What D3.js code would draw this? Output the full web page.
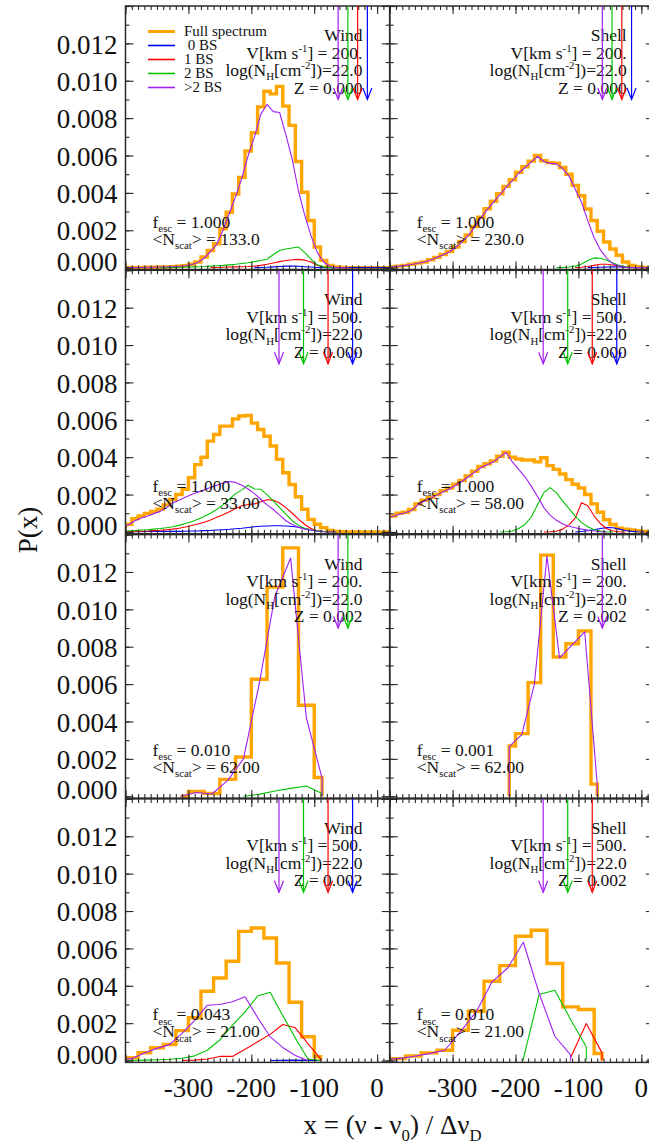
<!DOCTYPE html>
<html>
<head>
<meta charset="utf-8">
<script src="https://cdn.jsdelivr.net/npm/d3@7"></script>
<style>
  html, body { margin: 0; padding: 0; background: #fff; }
  svg { display: block; font-family: "Liberation Serif", "Times New Roman", serif; }
  text { white-space: pre; fill: #111; }
</style>
</head>
<body>
<svg id="chart" width="649" height="1146"></svg>
<script>
// Lyman-alpha escape spectra P(x): full spectrum and split by number of backscatterings.
// Series values are stored in units of 1e-3; each series lists bin-centre values
// starting at its own first bin centre, with a fixed bin width per panel.
const UNIT = 1e-3;

const xTickValues = [-300, -200, -100, 0];
const xTickLabels = ["-300", "-200", "-100", "0"];
const yTickValues = [0, 0.002, 0.004, 0.006, 0.008, 0.010, 0.012];
const yTickLabels = ["0.000", "0.002", "0.004", "0.006", "0.008", "0.010", "0.012"];

const legendLabels = ["Full spectrum", " 0 BS", "1 BS", "2 BS", ">2 BS"];
const seriesKeys = ["full", "bs0", "bs1", "bs2", "bs3"];

// Arrow positions (x) for each backscattering order, per outflow velocity
const arrowsV200 = { bs0: -15.5, bs1: -31, bs2: -46.5, bs3: -62 };
const arrowsV500 = { bs0: -39, bs1: -78, bs2: -117, bs3: -156 };
const arrowTip = 0.009;

// --- Wind, V=200, Z=0.000 (bin width 10)
const w200z0Full = [0.01,0.01,0.01,0.01,0.02,0.02,0.03,0.03,0.05,0.07, 0.1,0.18,0.3,0.57,0.92,1.28,2.08,2.96,3.94,4.83, 6.24,7.22,8.6,9.44,9.3,9.7,8.64,7.61,5.68,4.03, 2.52,1.1,0.39,0.12,0.04,0.01,0,0,0,0, 0,0,0,0];
const w200z0Bs3 = [0.01,0.01,0.01,0.01,0.02,0.02,0.03,0.03,0.05,0.07, 0.1,0.17,0.28,0.5,0.85,1.25,2.0,2.9,3.8,4.8, 6.0,7.0,8.2,8.73,8.35,8.3,7.1,5.8,4.1,2.8, 1.7,0.8,0.3,0.06,0.01,0,0];
const w200z0Bs2 = [0,0,0.01,0.02,0.03,0.04,0.05,0.06,0.08,0.1, 0.12,0.15,0.18,0.22,0.26,0.32,0.38,0.45,0.7,0.92, 1.0,1.05,1.1,0.8,0.45,0.15,0.04,0.01,0];
const w200z0Bs1 = [0,0.01,0.02,0.03,0.04,0.05,0.06,0.08,0.12,0.18, 0.25,0.32,0.38,0.42,0.44,0.4,0.3,0.12,0.03,0];
const w200z0Bs0 = [0,0.01,0.02,0.04,0.06,0.08,0.08,0.07,0.05,0.03, 0.01,0,0,0,0,0,0,0,0,0, 0,0,0];

// --- Shell, V=200, Z=0.000 (bin width 10)
const s200z0Full = [0.04,0.05,0.08,0.12,0.18,0.24,0.3,0.42,0.55,0.7, 0.86,1.1,1.4,1.75,2.2,2.7,3.15,3.55,3.95,4.35, 4.7,5.1,5.4,5.7,6.0,5.72,5.62,5.59,5.36,5.0, 4.4,3.85,3.14,2.52,1.95,1.37,1.0,0.66,0.3,0.12, 0.05,0.01,0,0];
const s200z0Bs3 = [0.04,0.05,0.08,0.12,0.17,0.23,0.3,0.41,0.54,0.69, 0.85,1.08,1.38,1.72,2.17,2.66,3.1,3.5,3.9,4.3, 4.65,5.05,5.35,5.65,5.95,5.68,5.58,5.55,5.3,4.9, 4.2,3.5,2.5,1.6,0.95,0.5,0.2,0.08,0.02,0, 0,0,0,0];
const s200z0Bs2 = [0,0.01,0.03,0.08,0.2,0.38,0.52,0.5,0.4,0.25, 0.12,0.05,0.01,0];
const s200z0Bs1 = [0,0.02,0.06,0.12,0.18,0.18,0.14,0.08,0.03,0.01,0];
const s200z0Bs0 = [0,0.01,0.02,0.03,0.04,0.03,0.02,0.01,0];

// --- Wind, V=500, Z=0.000 (bin width 10)
const w500z0Full = [0.3,0.41,0.71,0.85,0.99,1.1,1.21,1.45,1.74,2.0, 2.28,2.9,3.6,4.0,4.86,5.21,5.66,5.66,6.05,6.2, 6.23,5.82,5.48,5.12,4.6,3.88,3.17,2.54,1.88,1.21, 0.67,0.41,0.23,0.08,0.03,0.01,0,0,0,0, 0,0,0,0];
const w500z0Bs3 = [0.3,0.38,0.6,0.75,0.85,0.98,1.1,1.3,1.55,1.7, 1.85,2.0,2.12,2.25,2.38,2.5,2.6,2.7,2.65,2.5, 2.3,2.05,1.75,1.45,1.2,0.9,0.6,0.4,0.25,0.15, 0.1,0.05,0.01,0,0];
const w500z0Bs2 = [0.04,0.05,0.07,0.1,0.12,0.15,0.18,0.22,0.28,0.35, 0.45,0.55,0.68,0.82,1.0,1.2,1.45,1.75,2.05,2.25, 2.5,2.3,2.28,2.0,1.65,1.3,0.95,0.6,0.35,0.2, 0.12,0.07,0.03,0.01,0];
const w500z0Bs1 = [0.02,0.02,0.03,0.04,0.05,0.07,0.09,0.12,0.15,0.2, 0.26,0.34,0.42,0.52,0.64,0.78,0.92,1.08,1.25,1.4, 1.47,1.5,1.62,1.72,1.7,1.55,1.3,1.0,0.68,0.4, 0.18,0.06,0.02,0];
const w500z0Bs0 = [0.01,0.01,0.01,0.01,0.02,0.02,0.02,0.03,0.03,0.03, 0.04,0.05,0.05,0.07,0.08,0.1,0.12,0.14,0.17,0.2, 0.24,0.28,0.3,0.32,0.33,0.33,0.32,0.29,0.25,0.18, 0.1,0.05,0.02,0];

// --- Shell, V=500, Z=0.000 (bin width 10)
const s500z0Full = [0.8,0.85,1.0,1.05,1.2,1.5,1.7,1.85,2.0,2.2, 2.35,2.55,2.75,3.0,3.25,3.5,3.65,3.8,4.05,4.27, 4.0,3.9,3.85,3.85,3.75,3.97,3.55,3.35,3.1,2.8, 2.55,2.35,2.0,1.5,1.05,0.65,0.4,0.2,0.15,0.1, 0.06,0.03,0.01,0];
const s500z0Bs3 = [0.78,0.83,0.95,1.03,1.15,1.45,1.65,1.8,1.97,2.15, 2.3,2.5,2.7,2.95,3.2,3.45,3.6,3.75,4.0,4.25, 3.75,3.35,2.95,2.45,1.9,1.3,0.9,0.62,0.42,0.3, 0.22,0.15,0.1,0.05,0.01,0];
const s500z0Bs2 = [0,0.01,0.05,0.18,0.4,0.8,1.45,2.1,2.37,2.1, 1.65,1.25,0.85,0.5,0.28,0.12,0.05,0.01,0];
const s500z0Bs1 = [0,0.01,0.04,0.15,0.38,0.75,1.56,1.4,0.85,0.45, 0.17,0.05,0.01,0];
const s500z0Bs0 = [0,0.02,0.06,0.12,0.18,0.23,0.22,0.15,0.08,0.03, 0.01,0];

// --- Wind, V=200, Z=0.002 (bin width 25)
const w200z2Full = [0,0.25,0.15,0.9,2.1,6.26,11.19,13.29,4.87,1.0];
const w200z2Bs3 = [0,0.2,0.12,0.85,2.0,6.0,10.7,12.75,4.2,0.95];
const w200z2Bs2 = [0,0.1,0.28,0.42,0.55,0.15];

// --- Shell, V=200, Z=0.002 (bin width 20)
const s200z2Full = [2.69,3.35,6.08,12.9,7.45,8.16,8.84,0.65];
const s200z2Bs3 = [2.65,3.3,6.0,12.85,7.4,8.1,8.8,0.6];

// --- Wind, V=500, Z=0.002 (bin width 20)
const w500z2Full = [0.1,0.15,0.42,0.68,0.86,1.6,2.29,3.71,4.42,5.31,6.91,7.09,6.56,5.22,3.12,1.27,0.2];
const w500z2Bs3 = [0.05,0.1,0.4,0.65,0.85,1.45,2.15,2.96,3.0,3.15,3.41,2.3,1.27,0.7,0.27,0];
const w500z2Bs2 = [0,0,0.02,0.04,0.07,0.12,0.25,0.55,1.1,1.9,2.6,3.45,3.65,2.4,1.2,0.08,0];
const w500z2Bs1 = [0,0.02,0.08,0.22,0.22,0.6,1.0,1.4,1.93,1.75,0.9,0.1];
const w500z2Bs0 = [0,0.01,0.02,0.01,0];

// --- Shell, V=500, Z=0.002 (bin width 25)
const s500z2Full = [0.05,0.1,0.24,0.41,0.55,1.62,2.64,4.24,5.08,6.65,6.97,5.19,2.87,2.73,0.38];
const s500z2Bs3 = [0.05,0.1,0.22,0.37,0.55,1.55,2.6,4.2,4.95,6.33,3.6,1.3,0.3];
const s500z2Bs2 = [0.1,3.53,3.76,2.2,0.74];
const s500z2Bs1 = [0.15,1.98,0.41];

// Panel descriptions (reading order: left/right, top to bottom)
const panels = [
  { model: "Wind",  V: "200.", Z: "0.000", fesc: "1.000", nscat: "133.0", bin: 10, arrows: arrowsV200, shown: ["bs3","bs2","bs1","bs0"], legend: true,
    series: { full: [-405, w200z0Full], bs0: [-195, w200z0Bs0], bs1: [-265, w200z0Bs1], bs2: [-345, w200z0Bs2], bs3: [-405, w200z0Bs3] } },
  { model: "Shell", V: "200.", Z: "0.000", fesc: "1.000", nscat: "230.0", bin: 10, arrows: arrowsV200, shown: ["bs3","bs2","bs1","bs0"],
    series: { full: [-405, s200z0Full], bs0: [-85, s200z0Bs0], bs1: [-105, s200z0Bs1], bs2: [-135, s200z0Bs2], bs3: [-405, s200z0Bs3] } },
  { model: "Wind",  V: "500.", Z: "0.000", fesc: "1.000", nscat: "33.00", bin: 10, arrows: arrowsV500, shown: ["bs3","bs2","bs1","bs0"],
    series: { full: [-405, w500z0Full], bs0: [-405, w500z0Bs0], bs1: [-405, w500z0Bs1], bs2: [-405, w500z0Bs2], bs3: [-405, w500z0Bs3] } },
  { model: "Shell", V: "500.", Z: "0.000", fesc: "1.000", nscat: "58.00", bin: 10, arrows: arrowsV500, shown: ["bs3","bs2","bs1","bs0"],
    series: { full: [-405, s500z0Full], bs0: [-105, s500z0Bs0], bs1: [-155, s500z0Bs1], bs2: [-225, s500z0Bs2], bs3: [-405, s500z0Bs3] } },
  { model: "Wind",  V: "200.", Z: "0.002", fesc: "0.010", nscat: "62.00", bin: 25, arrows: arrowsV200, shown: ["bs3","bs2"],
    series: { full: [-312.5, w200z2Full], bs2: [-212.5, w200z2Bs2], bs3: [-312.5, w200z2Bs3] } },
  { model: "Shell", V: "200.", Z: "0.002", fesc: "0.001", nscat: "62.00", bin: 20, arrows: arrowsV200, shown: ["bs3"],
    series: { full: [-210, s200z2Full], bs3: [-210, s200z2Bs3] } },
  { model: "Wind",  V: "500.", Z: "0.002", fesc: "0.043", nscat: "21.00", bin: 20, arrows: arrowsV500, shown: ["bs3","bs2","bs1","bs0"],
    series: { full: [-410, w500z2Full], bs0: [-170, w500z2Bs0], bs1: [-310, w500z2Bs1], bs2: [-410, w500z2Bs2], bs3: [-410, w500z2Bs3] } },
  { model: "Shell", V: "500.", Z: "0.002", fesc: "0.010", nscat: "21.00", bin: 25, arrows: arrowsV500, shown: ["bs3","bs2","bs1"],
    series: { full: [-412.5, s500z2Full], bs1: [-112.5, s500z2Bs1], bs2: [-187.5, s500z2Bs2], bs3: [-412.5, s500z2Bs3] } }
];

// ---- layout & style
const colors = { full: "#FFA500", bs0: "#0000FF", bs1: "#FF0000", bs2: "#00C400", bs3: "#A020F0" };
const lefts = [125.5, 389.7];
const tops = [6, 270.3, 534.6, 798.9];
const panelW = 264.2, panelH = 263.5;
const xDomain = [-400, 20];
const yDomain = [-0.0001, 0.014];
const frameColor = "#2a2a2a";

const svg = d3.select("#chart");

function rich(g, x, y, parts, size, anchor) {
  const t = g.append("text")
    .attr("x", x).attr("y", y)
    .attr("font-size", size)
    .attr("text-anchor", anchor || "start");
  let shift = 0;
  parts.forEach(p => {
    const target = p.sub ? size * 0.25 : p.sup ? -size * 0.4 : 0;
    t.append("tspan")
      .attr("dy", (target - shift).toFixed(2))
      .attr("font-size", (p.sub || p.sup) ? size * 0.62 : size)
      .text(p.t);
    shift = target;
  });
  return t;
}

panels.forEach((p, i) => {
  const col = i % 2, row = Math.floor(i / 2);
  const left = lefts[col], top = tops[row];
  const x = d3.scaleLinear().domain(xDomain).range([left, left + panelW]);
  const y = d3.scaleLinear().domain(yDomain).range([top + panelH, top]);
  const g = svg.append("g");

  const clipId = "clip" + i;
  svg.append("clipPath").attr("id", clipId)
    .append("rect").attr("x", left).attr("y", top).attr("width", panelW).attr("height", panelH);

  // --- data lines
  const plot = g.append("g").attr("clip-path", `url(#${clipId})`);
  const toPoints = ([start, vals]) => {
    const pts = vals.map((v, k) => [start + k * p.bin, v * UNIT]);
    return [[pts[0][0], 0], ...pts, [pts[pts.length - 1][0], 0]];
  };
  const stepLine = d3.line().x(d => x(d[0])).y(d => y(d[1])).curve(d3.curveStep);
  const polyLine = d3.line().x(d => x(d[0])).y(d => y(d[1]));

  plot.append("path")
    .attr("d", stepLine(toPoints(p.series.full)))
    .attr("fill", "none").attr("stroke", colors.full)
    .attr("stroke-width", 3.4).attr("stroke-linejoin", "miter");

  ["bs0", "bs1", "bs2", "bs3"].forEach(k => {
    if (!p.series[k]) return;
    plot.append("path")
      .attr("d", polyLine(toPoints(p.series[k])))
      .attr("fill", "none").attr("stroke", colors[k])
      .attr("stroke-width", 1.1).attr("stroke-linejoin", "round");
  });

  // --- frame & ticks on all four sides
  const xMinor = d3.range(-400, 21, 10);
  const xMajor = [-400, -300, -200, -100, 0];
  const yMinor = d3.range(0, 0.01405, 0.001);
  const yMajor = d3.range(0, 0.01405, 0.002);
  const styleAxis = sel => {
    sel.select(".domain").remove();
    sel.selectAll("line").attr("stroke", frameColor).attr("stroke-width", 1.1);
    sel.selectAll("text").remove();
  };
  [[xMinor, 4], [xMajor, 8]].forEach(([vals, len]) => {
    g.append("g").attr("transform", `translate(0,${top + panelH})`)
      .call(d3.axisBottom(x).tickValues(vals).tickSize(-len).tickFormat("")).call(styleAxis);
    g.append("g").attr("transform", `translate(0,${top})`)
      .call(d3.axisTop(x).tickValues(vals).tickSize(-len).tickFormat("")).call(styleAxis);
  });
  [[yMinor, 4], [yMajor, 8]].forEach(([vals, len]) => {
    g.append("g").attr("transform", `translate(${left},0)`)
      .call(d3.axisLeft(y).tickValues(vals).tickSize(-len).tickFormat("")).call(styleAxis);
    g.append("g").attr("transform", `translate(${left + panelW},0)`)
      .call(d3.axisRight(y).tickValues(vals).tickSize(-len).tickFormat("")).call(styleAxis);
  });
  g.append("rect").attr("x", left).attr("y", top).attr("width", panelW).attr("height", panelH)
    .attr("fill", "none").attr("stroke", frameColor).attr("stroke-width", 1.5);

  // --- annotations
  const ann = g.append("g");
  const rx = left + 237, fs = 17.5;
  rich(ann, rx, top + 35, [{ t: p.model }], fs, "end");
  rich(ann, rx, top + 52.5, [{ t: "V[km s" }, { t: "-1", sup: true }, { t: "] = " + p.V }], fs, "end");
  rich(ann, rx, top + 70, [{ t: "log(N" }, { t: "H", sub: true }, { t: "[cm" }, { t: "-2", sup: true }, { t: "])=22.0" }], fs, "end");
  rich(ann, rx, top + 87.5, [{ t: "Z = " + p.Z }], fs, "end");
  rich(ann, left + 27, top + 221.5, [{ t: "f" }, { t: "esc", sub: true }, { t: " = " + p.fesc }], fs, "start");
  rich(ann, left + 27, top + 238.5, [{ t: "<N" }, { t: "scat", sub: true }, { t: "> = " + p.nscat }], fs, "start");

  // --- legend (first panel only)
  if (p.legend) {
    seriesKeys.forEach((k, j) => {
      const ly = top + 25.5 + 14 * j;
      g.append("line")
        .attr("x1", left + 22.5).attr("x2", left + 49.5)
        .attr("y1", ly).attr("y2", ly)
        .attr("stroke", colors[k]).attr("stroke-width", k === "full" ? 3 : 1.6);
      g.append("text")
        .attr("x", left + 58.5).attr("y", ly + 4.5)
        .attr("font-size", 15)
        .text(legendLabels[j]);
    });
  }

  // --- arrows marking the expected peak of each backscattering order
  const tipY = y(arrowTip);
  p.shown.forEach(k => {
    const ax = x(p.arrows[k]);
    const a = g.append("g").attr("stroke", colors[k]).attr("stroke-width", 1.2).attr("fill", "none");
    a.append("line").attr("x1", ax).attr("x2", ax).attr("y1", top).attr("y2", tipY);
    a.append("path").attr("d", `M${ax - 4.5},${tipY - 11.5}L${ax},${tipY}L${ax + 4.5},${tipY - 11.5}`);
  });

  // --- tick labels
  if (col === 0) {
    yTickValues.forEach((v, j) => {
      const ty = y(v);
      g.append("text")
        .attr("x", left - 8).attr("y", (v === 0 ? ty - 6 : ty + 1) + 9.2)
        .attr("text-anchor", "end").attr("font-size", 27)
        .text(yTickLabels[j]);
    });
  }
  if (row === 3) {
    xTickValues.forEach((v, j) => {
      g.append("text")
        .attr("x", x(v)).attr("y", top + panelH + 35)
        .attr("text-anchor", "middle").attr("font-size", 27)
        .text(xTickLabels[j]);
    });
  }
});

// --- axis titles
rich(svg, 392.5, 1134, [{ t: "x = (ν - ν" }, { t: "0", sub: true }, { t: ") / Δν" }, { t: "D", sub: true }], 27, "middle");
svg.append("text")
  .attr("transform", "translate(37,530) rotate(-90)")
  .attr("text-anchor", "middle").attr("font-size", 27)
  .text("P(x)");
</script>
</body>
</html>
